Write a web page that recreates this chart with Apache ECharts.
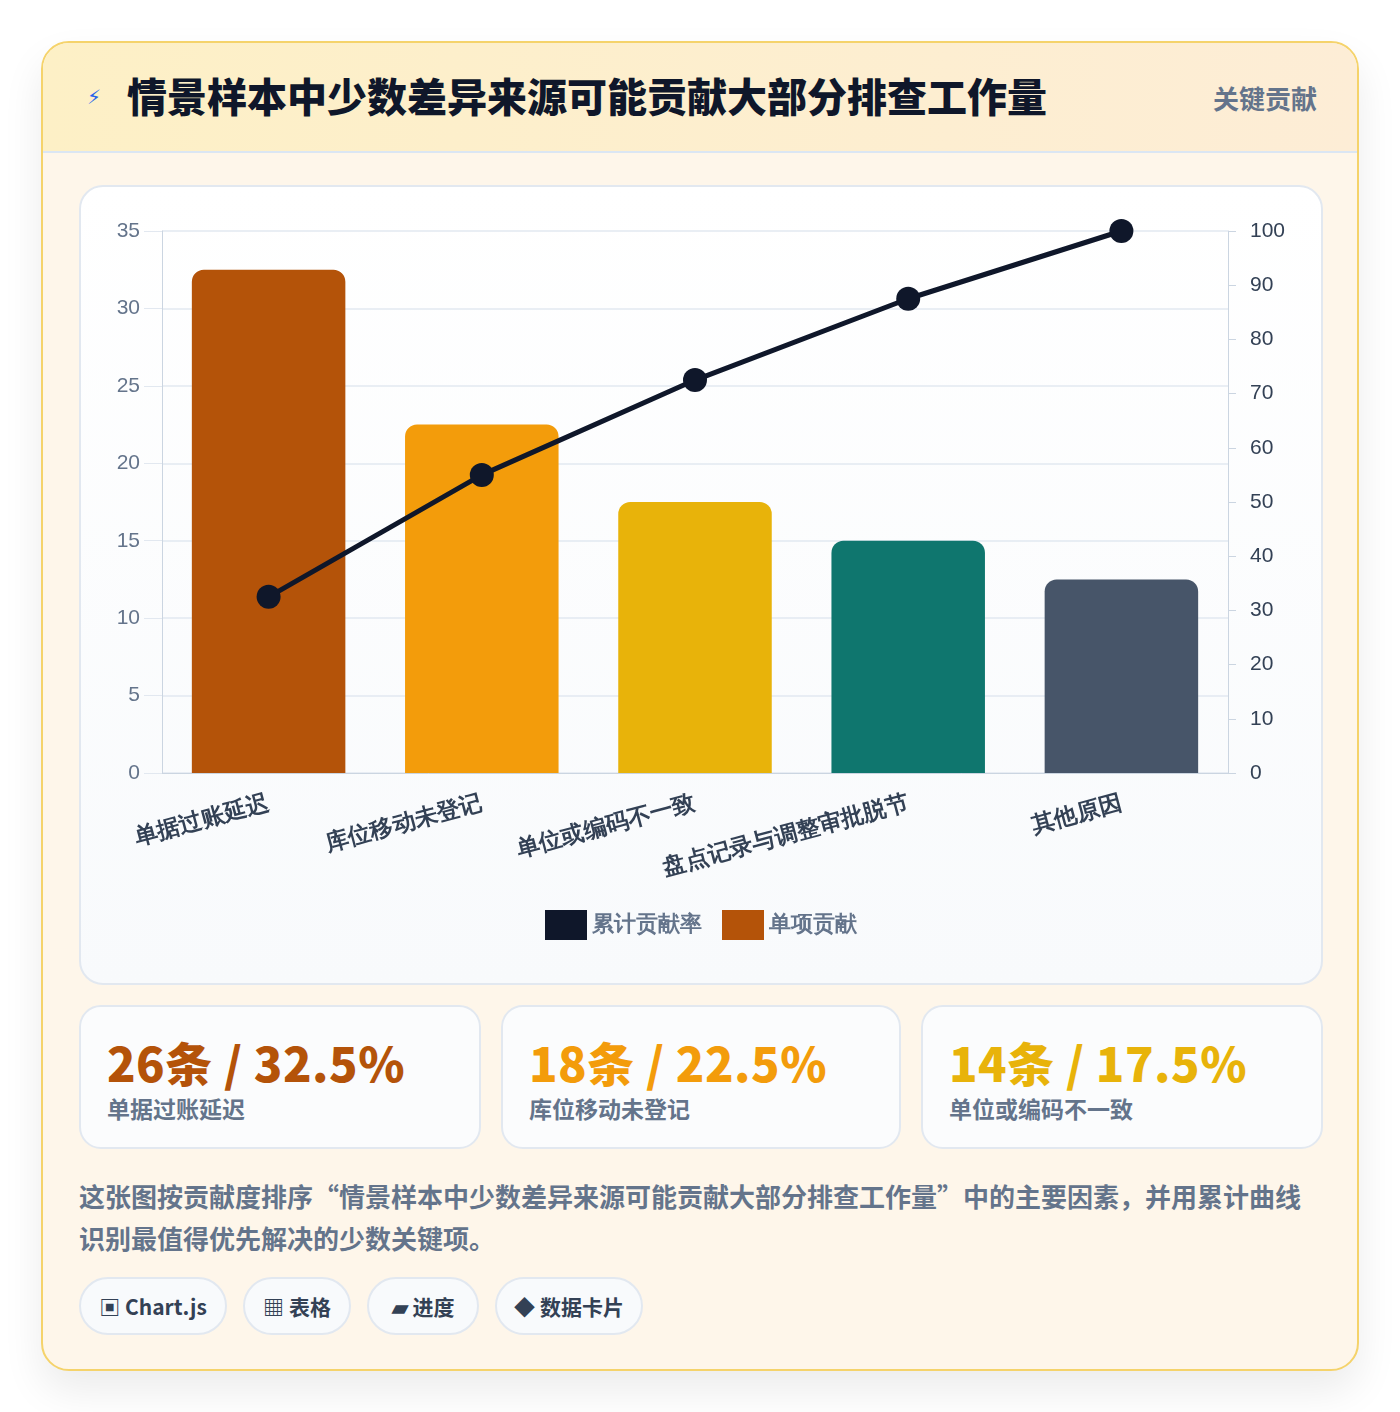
<!DOCTYPE html>
<html><head><meta charset="utf-8">
<script src="https://cdn.jsdelivr.net/npm/echarts@6/dist/echarts.min.js"></script>
<style>
*{box-sizing:border-box}
body{margin:0;width:1400px;height:1412px;background:#fff;font-family:"Noto Sans CJK SC","Noto Sans",sans-serif;}
.card{position:absolute;left:41px;top:41px;width:1318px;height:1330px;border:2px solid #f5d36b;border-radius:28px;background:#fef6ea;overflow:hidden;box-shadow:0 20px 40px rgba(0,0,0,0.08);}
.head{height:110px;background:linear-gradient(90deg,#fdf0c6,#fdedd6);border-bottom:2px solid #dbe6f3;position:relative}
.head .ic{position:absolute;left:44px;top:42px;color:#2563eb;font-size:20px;font-family:"DejaVu Sans"}
.head h1{position:absolute;left:84px;top:23px;margin:0;font-size:40px;font-weight:900;color:#0f172a}
.head .tag{position:absolute;right:40px;top:36px;font-size:26px;font-weight:700;color:#64748b}
.panel{position:absolute;left:36px;top:142px;width:1244px;height:800px;border:2px solid #e2e8f0;border-radius:24px;background:linear-gradient(#ffffff,#f8fafc)}
#chart{width:100%;height:100%}
.kpi{position:absolute;top:962px;height:144px;border:2px solid #e2e8f0;border-radius:22px;background:#fbfcfd}
.kpi .v{position:absolute;left:26px;top:20px;font-size:47px;font-weight:900;letter-spacing:0.5px;white-space:pre}
.kpi .l{position:absolute;left:26px;top:84px;font-size:23px;font-weight:700;color:#64748b}
.desc{position:absolute;left:36px;top:1132px;width:1236px;font-size:26px;font-weight:700;color:#64748b;line-height:42px}
.pill{position:absolute;top:1234px;height:58px;border:2px solid #e2e8f0;border-radius:29px;background:#f8fafc;font-size:21px;font-weight:700;color:#334155;line-height:54px;text-align:center}
</style></head><body>
<div class="card">
 <div class="head"><span class="ic">⚡</span><h1>情景样本中少数差异来源可能贡献大部分排查工作量</h1><span class="tag">关键贡献</span></div>
 <div class="panel"><div id="chart"></div></div>
 <div class="kpi" style="left:36px;width:402px"><div class="v" style="color:#b45309">26条 / 32.5%</div><div class="l">单据过账延迟</div></div>
 <div class="kpi" style="left:458px;width:400px"><div class="v" style="color:#f39c0b">18条 / 22.5%</div><div class="l">库位移动未登记</div></div>
 <div class="kpi" style="left:878px;width:402px"><div class="v" style="color:#e8b30a">14条 / 17.5%</div><div class="l">单位或编码不一致</div></div>
 <div class="desc">这张图按贡献度排序“情景样本中少数差异来源可能贡献大部分排查工作量”中的主要因素，并用累计曲线识别最值得优先解决的少数关键项。</div>
 <div class="pill" style="left:36px;width:148px">▣ Chart.js</div>
 <div class="pill" style="left:200px;width:108px">▦ 表格</div>
 <div class="pill" style="left:324px;width:112px">▰ 进度</div>
 <div class="pill" style="left:452px;width:148px">◆ 数据卡片</div>
</div>
<script>
const categories=['单据过账延迟','库位移动未登记','单位或编码不一致','盘点记录与调整审批脱节','其他原因'];
const shares=[32.5,22.5,17.5,15,12.5];
const cumulative=[32.5,55,72.5,87.5,100];
const barColors=['#b45309','#f39c0b','#e8b30a','#0f766e','#475569'];
const chart=echarts.init(document.getElementById('chart'));
chart.setOption({
 animation:false,
 grid:{left:81,right:93,top:44,bottom:210},
 legend:{bottom:38,data:['累计贡献率','单项贡献'],icon:'rect',itemWidth:42,itemHeight:30,itemGap:20,textStyle:{fontSize:22,fontWeight:'bold',color:'#64748b'}},
 xAxis:{type:'category',data:categories,axisTick:{show:false},axisLine:{lineStyle:{color:'#cbd5e1'}},
  axisLabel:{rotate:15,interval:0,fontSize:23,fontWeight:'bold',color:'#334155',margin:30}},
 yAxis:[
  {type:'value',min:0,max:35,interval:5,axisLine:{show:true,lineStyle:{color:'#cbd5e1'}},axisTick:{show:true,length:18,lineStyle:{color:'#e2e8f0'}},axisLabel:{fontSize:21,color:'#64748b',margin:22},splitLine:{lineStyle:{color:'#e2e8f0',width:1.5}}},
  {type:'value',min:0,max:100,interval:10,axisLine:{show:true,lineStyle:{color:'#cbd5e1'}},axisTick:{show:true,length:8,lineStyle:{color:'#cbd5e1'}},axisLabel:{fontSize:21,color:'#334155',margin:22},splitLine:{show:false}}
 ],
 series:[
  {name:'单项贡献',type:'bar',barWidth:'72%',itemStyle:{color:'#b45309'},
   data:shares.map((v,i)=>({value:v,itemStyle:{color:barColors[i],borderRadius:[12,12,0,0]}}))},
  {name:'累计贡献率',type:'line',yAxisIndex:1,data:cumulative,color:'#0f172a',symbol:'circle',symbolSize:24,lineStyle:{width:5,color:'#0f172a'},itemStyle:{color:'#0f172a'},z:5}
 ]
});
</script>
</body></html>
